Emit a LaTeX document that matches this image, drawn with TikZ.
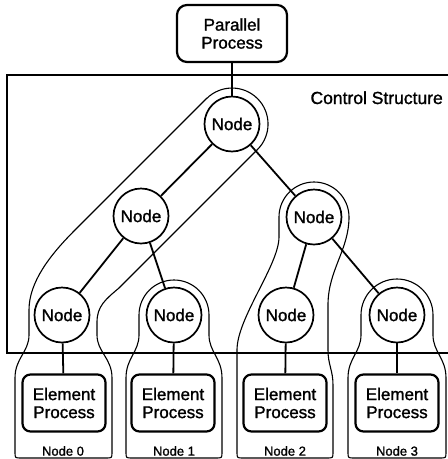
\documentclass[tikz,border=0pt]{standalone}
\usepackage{fontspec}
\setmainfont{Liberation Sans}[UprightFeatures={FakeBold=1.3}]
\begin{document}
\begin{tikzpicture}[x=1pt,y=-1pt,
  txt/.style={font=\fontsize{17}{18}\selectfont, align=center},
  nodecirc/.style={circle, draw, line width=1.7pt, minimum size=55pt, inner sep=0pt, fill=white, txt},
  procbox/.style={draw, line width=2.2pt, rounded corners=8pt, minimum width=83pt, minimum height=57pt, inner sep=0pt, fill=white, txt},
  edge/.style={line width=1.8pt},
  encl/.style={line width=1.1pt},
  frame/.style={line width=1.2pt},
  lab/.style={font=\fontsize{13}{14}\selectfont}
]
\useasboundingbox (0,0) rectangle (448,459);

% control structure frame
\draw[frame] (448,75) -- (7,75) -- (7,353) -- (448,353);
\node[font=\fontsize{17.5}{18}\selectfont, anchor=base east, inner sep=0pt] (cs) at (443,104) {Control Structure};

% enclosures
\draw[encl] (206.5,98.5) -- (75,230) .. controls (50,255) and (29,282) .. (29,310) -- (29,335)
  .. controls (29,352) and (15,358) .. (15,378) -- (15,452) .. controls (15,458) .. (21,458)
  -- (106,458) .. controls (112,458) .. (112,452) -- (112,378)
  .. controls (112,358) and (97,352) .. (97,335) -- (97,322)
  .. controls (97,306) and (106,299) .. (119,288) -- (257.5,149.5)
  arc[start angle=45, end angle=-135, radius=36] -- cycle;

\draw[encl] (139,315) arc[start angle=180, end angle=360, radius=35] -- (209,335)
  .. controls (209,352) and (222,358) .. (222,378) -- (222,452) .. controls (222,458) .. (216,458)
  -- (132,458) .. controls (126,458) .. (126,452) -- (126,378)
  .. controls (126,358) and (139,352) .. (139,335) -- cycle;

\draw[encl] (279,217) arc[start angle=180, end angle=360, radius=35]
  .. controls (349,250) and (328,270) .. (328,305) -- (328,350)
  .. controls (328,365) and (333,370) .. (333,385) -- (333,452) .. controls (333,458) .. (327,458)
  -- (243,458) .. controls (237,458) .. (237,452) -- (237,350)
  .. controls (237,318) and (279,265) .. (279,237) -- cycle;

\draw[encl] (361,315) arc[start angle=180, end angle=360, radius=36] -- (433,335)
  .. controls (433,352) and (446,358) .. (446,378) -- (446,452) .. controls (446,458) .. (440,458)
  -- (354,458) .. controls (348,458) .. (348,452) -- (348,378)
  .. controls (348,358) and (361,352) .. (361,335) -- cycle;

% nodes
\node[procbox, minimum width=110pt, minimum height=57pt, rounded corners=10pt] (pp) at (232,33.5) {Parallel\\Process};
\node[nodecirc] (root) at (232,124) {Node};
\node[nodecirc] (l1l) at (141,216) {Node};
\node[nodecirc] (l1r) at (314,217) {Node};
\node[nodecirc] (n0) at (62,315) {Node};
\node[nodecirc] (n1) at (174,315) {Node};
\node[nodecirc] (n2) at (286,315) {Node};
\node[nodecirc] (n3) at (397,315) {Node};
\node[procbox] (e0) at (64,403) {Element\\Process};
\node[procbox] (e1) at (173,403) {Element\\Process};
\node[procbox] (e2) at (285,403) {Element\\Process};
\node[procbox] (e3) at (397,403) {Element\\Process};
\node[lab] (t0) at (63,451) {Node 0};
\node[lab] (t1) at (174,451) {Node 1};
\node[lab] (t2) at (285,451) {Node 2};
\node[lab] (t3) at (397,451) {Node 3};

% connectors
\draw[edge] (pp) -- (root);
\draw[edge] (root) -- (l1l);
\draw[edge] (root) -- (l1r);
\draw[edge] (l1l) -- (n0);
\draw[edge] (l1l) -- (n1);
\draw[edge] (l1r) -- (n2);
\draw[edge] (l1r) -- (n3);
\draw[edge] (n0) -- (e0);
\draw[edge] (n1) -- (e1);
\draw[edge] (n2) -- (e2);
\draw[edge] (n3) -- (e3);
\end{tikzpicture}
\end{document}
